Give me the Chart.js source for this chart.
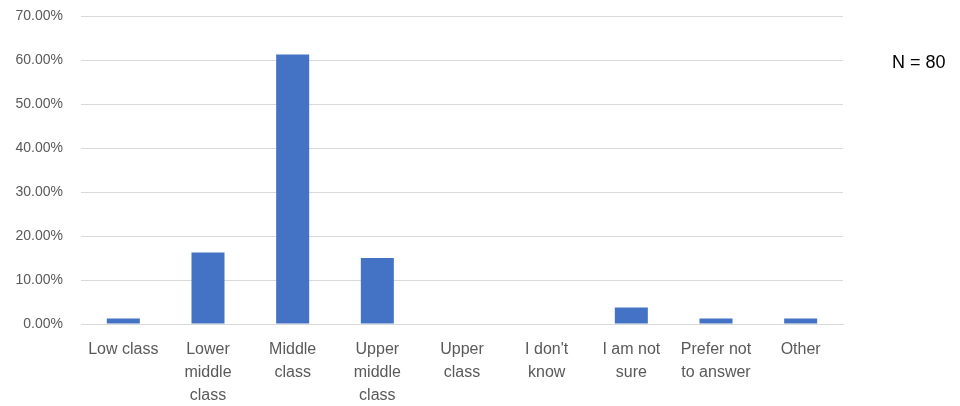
<!DOCTYPE html>
<html>
<head>
<meta charset="utf-8">
<script src="https://cdn.jsdelivr.net/npm/chart.js@4"></script>
<style>
  html, body { margin: 0; padding: 0; background: #fff; }
  #wrap { position: relative; width: 960px; height: 406px; }
  #note {
    position: absolute; left: 892px; top: 52px;
    font: 18px 'Liberation Sans', Arial, sans-serif; color: #000;
  }
</style>
</head>
<body>
<div id="wrap">
  <canvas id="chart" width="960" height="406"></canvas>
  <div id="note">N = 80</div>
</div>
<script>
// 응답 분포 (N = 80)
const categories = [
  'Low class', ['Lower', 'middle', 'class'], ['Middle', 'class'],
  ['Upper', 'middle', 'class'], ['Upper', 'class'], ['I don\'t', 'know'],
  ['I am not', 'sure'], ['Prefer not', 'to answer'], 'Other'
];
const shares = [1.25, 16.25, 61.25, 15, 0, 0, 3.75, 1.25, 1.25];
const yTicks = [0, 10, 20, 30, 40, 50, 60, 70];

const family = "'Liberation Sans', Arial, sans-serif";

new Chart(document.getElementById('chart').getContext('2d'), {
  type: 'bar',
  data: {
    labels: categories,
    datasets: [{
      data: shares,
      backgroundColor: '#4472C4',
      barPercentage: 0.39,
      categoryPercentage: 1
    }]
  },
  options: {
    responsive: false,
    animation: false,
    layout: { padding: { top: 16, right: 117, left: 0, bottom: 0 } },
    plugins: { legend: { display: false }, tooltip: { enabled: false } },
    scales: {
      x: {
        grid: { display: false, drawTicks: false },
        border: { color: '#d9d9d9', width: 1 },
        ticks: {
          color: '#595959', font: { family, size: 16, lineHeight: 1.44 },
          padding: 14, maxRotation: 0, autoSkip: false
        },
        afterFit: s => { s.height = 82; s.paddingLeft = 0; s.paddingRight = 0; }
      },
      y: {
        min: 0, max: 70,
        afterBuildTicks: s => { s.ticks = yTicks.map(v => ({ value: v })); },
        grid: { color: '#d9d9d9', drawTicks: false },
        border: { display: false },
        ticks: {
          color: '#595959', font: { family, size: 14 }, padding: 18,
          callback: v => v.toFixed(2) + '%'
        },
        afterFit: s => { s.width = 81; s.paddingTop = 0; s.paddingBottom = 0; }
      }
    }
  }
});
</script>
</body>
</html>
